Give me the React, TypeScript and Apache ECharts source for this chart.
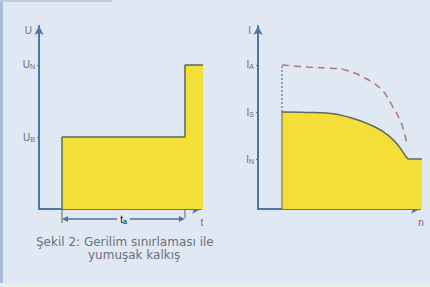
import React, { useEffect, useRef } from "react";
import * as echarts from "echarts";

// Left panel: voltage U over time t (step shape)
const voltageStep: [number, number][] = [
  [14.2, 0],
  [14.2, 39.3],
  [90.1, 39.3],
  [90.1, 78.7],
  [104.3, 78.7],
];
const voltageTickValues = [39.3, 78.7];
const voltageTickLabels = ["U{sub|B}", "U{sub|N}"];
const rampStart = 14.2;
const rampEnd = 90.1;
const rampArrowLevel = -5.5;

// Right panel: current I over speed n
const currentCurve: [number, number][] = [
  [14.8, 53],
  [30, 52.8],
  [47.5, 51.9],
  [61.7, 48.6],
  [72.2, 44.8],
  [80.2, 40.4],
  [86.4, 35],
  [92, 27.9],
  [93.5, 27.3],
  [103.7, 27.3],
];
const currentEdge: [number, number][] = [
  [14.8, 0],
  [14.8, 53],
];
const directStartCurve: [number, number][] = [
  [14.8, 78.7],
  [30.9, 77.6],
  [43.2, 77],
  [53.7, 76],
  [66, 71.6],
  [76.5, 65],
  [83.3, 55.7],
  [88.9, 45.9],
  [92, 35],
];
const directStartRise: [number, number][] = [
  [14.8, 53],
  [14.8, 78.7],
];
const currentTickValues = [27.3, 53, 78.7];
const currentTickLabels = ["I{sub|N}", "I{sub|S}", "I{sub|A}"];

const captionLine1 = "Şekil 2: Gerilim sınırlaması ile";
const captionLine2 = "yumuşak kalkış";

const BG = "#dfe8f3";
const AXIS = "#4f74a6";
const EDGE = "#5d6a60";
const FILL = "#f4de38";
const TEXT = "#6b717e";
const FONT = "Liberation Sans, Arial, sans-serif";

const richLabel = {
  main: { fontSize: 10, color: TEXT, fontFamily: FONT },
  sub: { fontSize: 7, color: TEXT, fontFamily: FONT, padding: [4, 0, 0, 0] },
};

function labelFor(values: number[], labels: string[]) {
  return (v: number) => {
    const i = values.findIndex((x) => Math.abs(x - v) < 0.01);
    if (i < 0) return "";
    const l = labels[i];
    const m = l.indexOf("{");
    return "{main|" + l.slice(0, m) + "}" + l.slice(m);
  };
}

function makeYAxis(gridIndex: number, name: string, values: number[], labels: string[]) {
  return {
    type: "value",
    gridIndex,
    min: 0,
    max: 100,
    name,
    nameLocation: "end",
    nameGap: -4,
    nameTextStyle: {
      align: "right",
      verticalAlign: "middle",
      padding: [0, 7, 0, 0],
      color: TEXT,
      fontSize: 10,
      fontFamily: FONT,
    },
    splitLine: { show: false },
    axisLine: {
      show: true,
      lineStyle: { color: AXIS, width: 2 },
      symbol: ["none", "arrow"],
      symbolSize: [7, 9],
    },
    axisTick: {
      show: true,
      length: 2,
      customValues: values,
      lineStyle: { color: TEXT, width: 1 },
    },
    axisLabel: {
      show: true,
      customValues: values,
      margin: 4,
      formatter: labelFor(values, labels),
      rich: richLabel,
    },
  };
}

function makeXAxis(gridIndex: number, name: string) {
  return {
    type: "value",
    gridIndex,
    min: 0,
    max: 100,
    name,
    nameLocation: "end",
    nameGap: 1,
    nameTextStyle: {
      align: "center",
      verticalAlign: "top",
      padding: [8, 0, 0, 0],
      color: TEXT,
      fontSize: 10,
      fontFamily: FONT,
    },
    splitLine: { show: false },
    axisLine: {
      show: true,
      onZero: false,
      lineStyle: { color: AXIS, width: 2 },
      symbol: ["none", "arrow"],
      symbolSize: [7, 9],
    },
    axisTick: { show: false },
    axisLabel: { show: false },
  };
}

const frameGraphics = [
  { type: "rect", shape: { x: 0, y: 0, width: 3, height: 287 }, style: { fill: "#a9bcdc" }, silent: true },
  { type: "rect", shape: { x: 0, y: 0, width: 112, height: 2 }, style: { fill: "#bccbe2" }, silent: true },
  { type: "rect", shape: { x: 0, y: 283, width: 430, height: 4 }, style: { fill: "#e6eeea" }, silent: true },
];

const captionStyle = {
  fontSize: 12,
  lineHeight: 12,
  fontWeight: "normal",
  color: TEXT,
  fontFamily: "DejaVu Sans, sans-serif",
};

export default function App() {
  const ref = useRef<HTMLDivElement>(null);
  useEffect(() => {
    if (!ref.current) return;
    const chart = echarts.init(ref.current, undefined, { renderer: "svg" });
    chart.setOption({
      animation: false,
      backgroundColor: BG,
      title: [
        { text: captionLine1, left: 36, top: 236, padding: 0, textStyle: captionStyle },
        { text: captionLine2, left: 88, top: 249, padding: 0, textStyle: captionStyle },
      ],
      graphic: frameGraphics,
      grid: [
        { left: 39, top: 26, width: 162, height: 183 },
        { left: 258, top: 26, width: 162, height: 183 },
      ],
      xAxis: [makeXAxis(0, "t"), makeXAxis(1, "n")],
      yAxis: [
        makeYAxis(0, "U", voltageTickValues, voltageTickLabels),
        makeYAxis(1, "I", currentTickValues, currentTickLabels),
      ],
      series: [
        {
          type: "line",
          xAxisIndex: 0,
          yAxisIndex: 0,
          data: voltageStep,
          clip: false,
          symbol: "none",
          lineStyle: { color: EDGE, width: 1.5 },
          areaStyle: { color: FILL, opacity: 1 },
          z: 1,
        },
        {
          type: "line",
          xAxisIndex: 1,
          yAxisIndex: 1,
          data: currentCurve,
          clip: false,
          smooth: 0.35,
          symbol: "none",
          lineStyle: { color: EDGE, width: 1.5 },
          areaStyle: { color: FILL, opacity: 1 },
          z: 1,
        },
        {
          type: "line",
          xAxisIndex: 1,
          yAxisIndex: 1,
          data: currentEdge,
          symbol: "none",
          lineStyle: { color: EDGE, width: 1 },
          z: 2,
        },
        {
          type: "line",
          xAxisIndex: 1,
          yAxisIndex: 1,
          data: directStartRise,
          symbol: "none",
          lineStyle: { color: "#5f6f8c", width: 1.2, type: [2, 2] },
          z: 2,
        },
        {
          type: "line",
          xAxisIndex: 1,
          yAxisIndex: 1,
          data: directStartCurve,
          smooth: 0.4,
          symbol: "none",
          lineStyle: { color: "#b47484", width: 1.5, type: [7, 5] },
          z: 2,
        },
      ],
    });

    // Ramp-time annotation below the left x-axis, positioned through the axis scales
    const finder = { xAxisIndex: 0, yAxisIndex: 0 };
    const a = chart.convertToPixel(finder, [rampStart, rampArrowLevel]) as number[];
    const b = chart.convertToPixel(finder, [rampEnd, rampArrowLevel]) as number[];
    const base0 = chart.convertToPixel(finder, [rampStart, 0]) as number[];
    const baseEnd = chart.convertToPixel(finder, [rampEnd, 0]) as number[];
    const y = a[1];
    const mid = (a[0] + b[0]) / 2;
    const ah = 6;
    const aw = 3;
    chart.setOption({
      graphic: [
        ...frameGraphics,
        {
          type: "line",
          shape: { x1: a[0] + 2, y1: y, x2: b[0] - 2, y2: y },
          style: { stroke: AXIS, lineWidth: 1.5 },
          silent: true,
        },
        {
          type: "polygon",
          shape: { points: [[a[0], y], [a[0] + ah, y - aw], [a[0] + ah, y + aw]] },
          style: { fill: AXIS },
          silent: true,
        },
        {
          type: "polygon",
          shape: { points: [[b[0], y], [b[0] - ah, y - aw], [b[0] - ah, y + aw]] },
          style: { fill: AXIS },
          silent: true,
        },
        {
          type: "line",
          shape: { x1: base0[0], y1: base0[1], x2: base0[0], y2: y + 4 },
          style: { stroke: EDGE, lineWidth: 1 },
          silent: true,
        },
        {
          type: "line",
          shape: { x1: baseEnd[0], y1: baseEnd[1] - 4, x2: baseEnd[0], y2: y - 1 },
          style: { stroke: EDGE, lineWidth: 1 },
          silent: true,
        },
        {
          type: "text",
          x: mid,
          y: y,
          z: 10,
          style: {
            text: "{main|t}{sub|a}",
            rich: richLabel,
            align: "center",
            verticalAlign: "middle",
            backgroundColor: BG,
            padding: [0, 3],
          },
          silent: true,
        },
      ],
    });
    return () => chart.dispose();
  }, []);
  return (
    <div
      ref={ref}
      style={{ position: "fixed", left: 0, top: 0, width: 430, height: 287 }}
    />
  );
}
